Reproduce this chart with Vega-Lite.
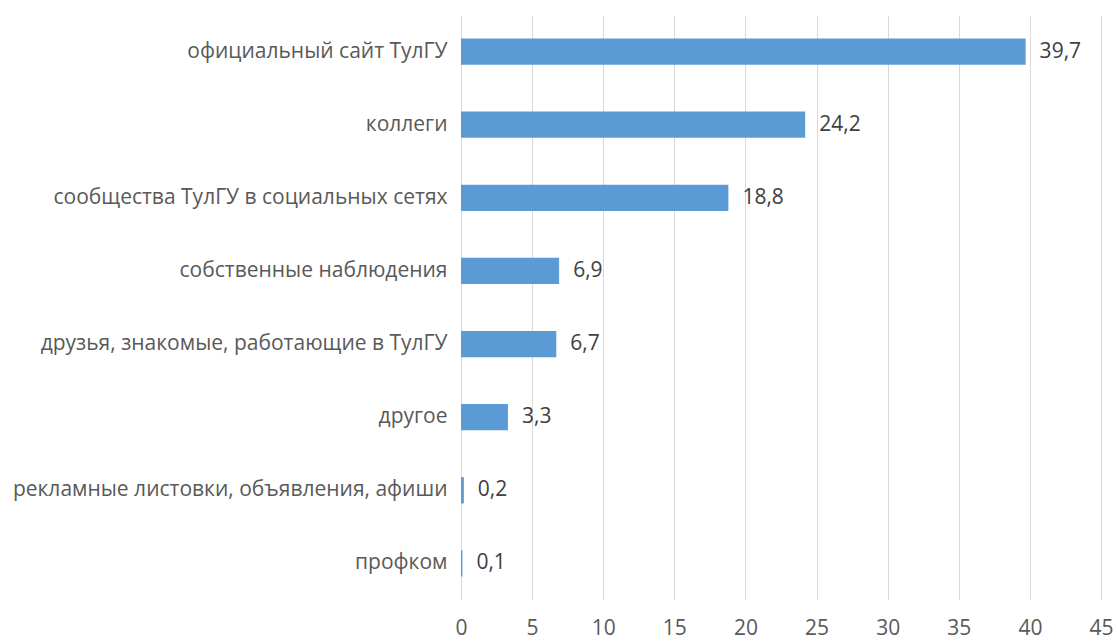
{
  "$schema": "https://vega.github.io/schema/vega-lite/v6.json",
  "autosize": {"type": "none"},
  "padding": {"left": 461, "top": 15, "right": 16, "bottom": 42},
  "width": 640,
  "height": 585,
  "background": "white",
  "config": {
    "view": {"stroke": null},
    "font": "Open Sans"
  },
  "data": {
    "values": [
      {"category": "официальный сайт ТулГУ", "value": 39.7, "label": "39,7"},
      {"category": "коллеги", "value": 24.2, "label": "24,2"},
      {"category": "сообщества ТулГУ в социальных сетях", "value": 18.8, "label": "18,8"},
      {"category": "собственные наблюдения", "value": 6.9, "label": "6,9"},
      {"category": "друзья, знакомые, работающие в ТулГУ", "value": 6.7, "label": "6,7"},
      {"category": "другое", "value": 3.3, "label": "3,3"},
      {"category": "рекламные листовки, объявления, афиши", "value": 0.2, "label": "0,2"},
      {"category": "профком", "value": 0.1, "label": "0,1"}
    ]
  },
  "encoding": {
    "y": {
      "field": "category",
      "type": "nominal",
      "sort": null,
      "scale": {"paddingInner": 0.64, "paddingOuter": 0.32},
      "axis": {
        "title": null,
        "domain": false,
        "ticks": false,
        "labelFontSize": 21,
        "labelColor": "#595959",
        "labelPadding": 14,
        "labelLimit": 500
      }
    }
  },
  "layer": [
    {
      "mark": {"type": "bar", "color": "#5b9bd5"},
      "encoding": {
        "x": {
          "field": "value",
          "type": "quantitative",
          "scale": {"domain": [0, 45], "nice": false},
          "axis": {
            "title": null,
            "values": [0, 5, 10, 15, 20, 25, 30, 35, 40, 45],
            "domain": false,
            "ticks": false,
            "grid": true,
            "gridColor": "#d9d9d9",
            "gridWidth": 1,
            "labelFontSize": 21,
            "labelColor": "#595959",
            "labelPadding": 17,
            "labelFlush": false
          }
        }
      }
    },
    {
      "mark": {"type": "text", "align": "left", "baseline": "middle", "dx": 14, "fontSize": 21, "color": "#404040"},
      "encoding": {
        "x": {"field": "value", "type": "quantitative"},
        "text": {"field": "label"}
      }
    }
  ]
}
